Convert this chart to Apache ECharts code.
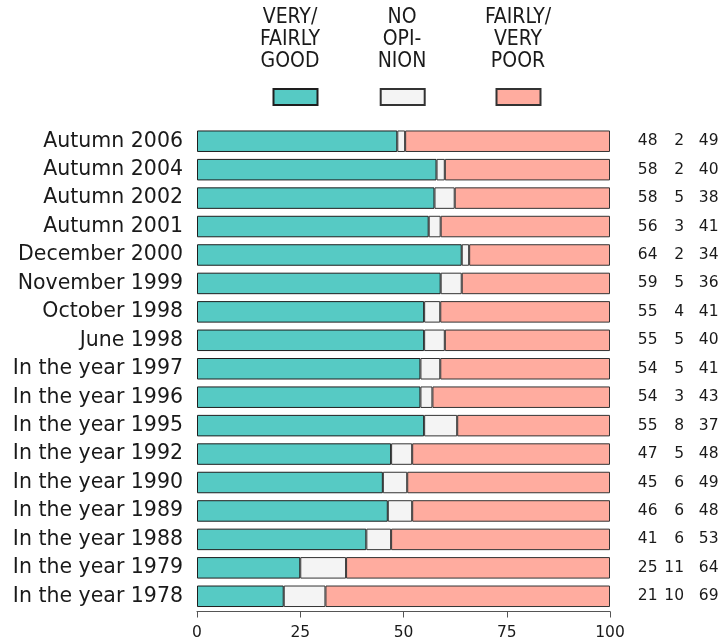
<!DOCTYPE html>
<html>
<head>
<meta charset="utf-8">
<script src="https://cdn.jsdelivr.net/npm/echarts@6/dist/echarts.min.js"></script>
<style>
html,body{margin:0;padding:0;background:#fff;}
#chart{width:723px;height:642px;}
</style>
</head>
<body>
<div id="chart"></div>
<script>
// ---- data ----
var categories = [
  "Autumn 2006", "Autumn 2004", "Autumn 2002", "Autumn 2001", "December 2000",
  "November 1999", "October 1998", "June 1998", "In the year 1997", "In the year 1996",
  "In the year 1995", "In the year 1992", "In the year 1990", "In the year 1989",
  "In the year 1988", "In the year 1979", "In the year 1978"
];
// bar segment lengths
var goodValues = [48.5, 58.0, 57.5, 56.1, 64.1, 59.0, 55.0, 55.0, 54.1, 54.1, 55.0, 47.0, 45.0, 46.2, 41.0, 25.0, 21.0];
var noOpinionValues = [1.9, 2.0, 4.9, 2.9, 1.8, 5.1, 3.9, 5.0, 4.8, 2.9, 8.0, 5.1, 5.9, 5.9, 6.0, 11.1, 10.1];
var poorValues = [49.6, 40.0, 37.6, 41.0, 34.1, 35.9, 41.1, 40.0, 41.1, 43.0, 37.0, 47.9, 49.1, 47.9, 53.0, 63.9, 68.9];
// printed numbers at right
var goodLabels = [48, 58, 58, 56, 64, 59, 55, 55, 54, 54, 55, 47, 45, 46, 41, 25, 21];
var noOpinionLabels = [2, 2, 5, 3, 2, 5, 4, 5, 5, 3, 8, 5, 6, 6, 6, 11, 10];
var poorLabels = [49, 40, 38, 41, 34, 36, 41, 40, 41, 43, 37, 48, 49, 48, 53, 64, 69];
var seriesNames = ["VERY/\nFAIRLY\nGOOD", "NO\nOPI-\nNION", "FAIRLY/\nVERY\nPOOR"];
var xTicks = [0, 25, 50, 75, 100];

// ---- styles ----
var FONT = "'DejaVu Sans', 'Liberation Sans', Arial, sans-serif";
var NARROW = "'Liberation Sans Narrow', 'DejaVu Sans Condensed', 'Liberation Sans', sans-serif";
var colors = ["#56CAC4", "#F4F4F4", "#FFAC9F"];
var borders = ["#1e1e1e", "#333333", "#333333"];
var textColor = "#1a1a1a";

var chart = echarts.init(document.getElementById('chart'), null, {renderer: 'canvas'});

function numAxis(arr, margin) {
  return {
    type: 'category',
    position: 'right',
    data: categories,
    inverse: true,
    axisLine: {show: false},
    axisTick: {show: false},
    axisLabel: {
      margin: margin,
      align: 'right',
      fontFamily: FONT,
      fontSize: 15.5,
      color: textColor,
      formatter: function (v, i) { return String(arr[i]); }
    }
  };
}

var legendCenters = [294.5, 401.7, 517.5];
var legends = seriesNames.map(function (n, i) {
  return {
    data: [n],
    left: legendCenters[i] - 22,
    top: 88,
    icon: 'rect',
    itemWidth: 44,
    itemHeight: 16,
    itemGap: 0,
    padding: 0,
    formatter: function () { return ''; },
    textStyle: {fontSize: 1},
    selectedMode: false
  };
});

var legendTexts = seriesNames.map(function (n, i) {
  return {
    type: 'text',
    x: [290, 402, 518][i],
    y: 7,
    style: {
      text: n,
      fontFamily: NARROW,
      fontSize: 21,
      lineHeight: 22,
      fill: textColor,
      align: 'center',
      verticalAlign: 'top'
    }
  };
});

var valueSets = [goodValues, noOpinionValues, poorValues];

var option = {
  animation: false,
  backgroundColor: '#ffffff',
  legend: legends,
  graphic: legendTexts,
  grid: {left: 197, right: 113, top: 127, bottom: 31.5, containLabel: false},
  xAxis: {
    type: 'value',
    min: xTicks[0],
    max: xTicks[xTicks.length - 1],
    interval: 25,
    offset: 1,
    splitLine: {show: false},
    axisLine: {show: true, lineStyle: {color: '#555555', width: 1}},
    axisTick: {show: true, length: 6, lineStyle: {color: '#555555'}},
    axisLabel: {margin: 13, fontFamily: FONT, fontSize: 15.5, color: textColor}
  },
  yAxis: [
    {
      type: 'category',
      data: categories,
      inverse: true,
      axisLine: {show: false},
      axisTick: {show: false},
      axisLabel: {margin: 14, fontFamily: FONT, fontSize: 20.5, color: textColor}
    },
    numAxis(goodLabels, 47.5),
    numAxis(noOpinionLabels, 74),
    numAxis(poorLabels, 108.5)
  ],
  series: seriesNames.map(function (n, i) {
    return {
      name: n,
      type: 'bar',
      stack: 'total',
      yAxisIndex: 0,
      barWidth: 21.5,
      data: valueSets[i],
      itemStyle: {color: colors[i], borderColor: borders[i], borderWidth: 1},
      emphasis: {disabled: true}
    };
  })
};
chart.setOption(option);
</script>
</body>
</html>
